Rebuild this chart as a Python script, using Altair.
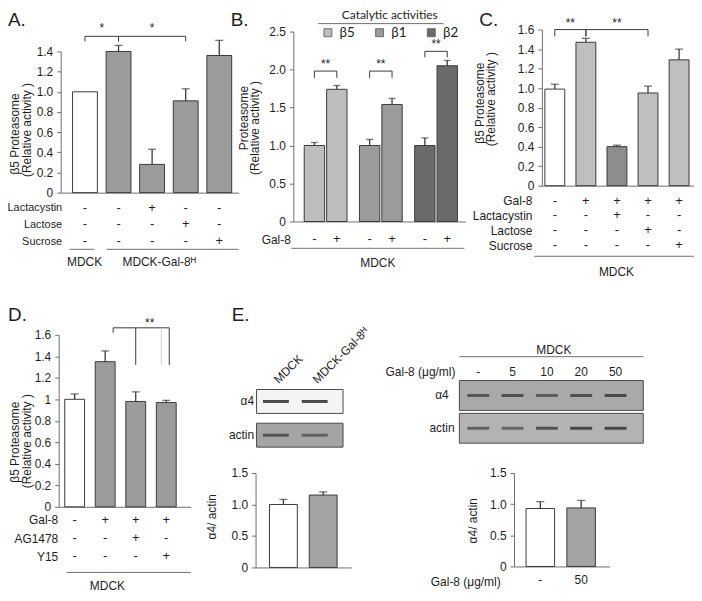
import altair as alt
import pandas as pd

# ======================= DATA =======================
# Panel A : MDCK vs MDCK-Gal-8H, beta5 proteasome activity
A_conditions = ["MDCK", "MDCK-Gal-8H", "MDCK-Gal-8H + lactacystin",
                "MDCK-Gal-8H + lactose", "MDCK-Gal-8H + sucrose"]
A_values = [1.00, 1.40, 0.28, 0.91, 1.36]
A_errors = [0.00, 0.06, 0.15, 0.12, 0.15]
A_rows = ["Lactacystin", "Lactose", "Sucrose"]
A_signs = [["-", "-", "+", "-", "-"],
           ["-", "-", "-", "+", "-"],
           ["-", "-", "-", "-", "+"]]
A_yticks = [0, 0.2, 0.4, 0.6, 0.8, 1.0, 1.2, 1.4]

# Panel B : catalytic activities, +/- Gal-8
B_activities = ["β5", "β1", "β2"]
B_gal8 = ["-", "+"]
B_values_ctrl = [1.00, 1.00, 1.00]
B_values_gal8 = [1.74, 1.54, 2.05]
B_errors_ctrl = [0.04, 0.08, 0.10]
B_errors_gal8 = [0.05, 0.08, 0.07]
B_yticks = [0, 0.5, 1.0, 1.5, 2.0, 2.5]

# Panel C
C_conditions = ["Control", "Gal-8", "Gal-8 + lactacystin", "Gal-8 + lactose", "Gal-8 + sucrose"]
C_values = [0.99, 1.47, 0.40, 0.95, 1.29]
C_errors = [0.05, 0.04, 0.015, 0.07, 0.11]
C_rows = ["Gal-8", "Lactacystin", "Lactose", "Sucrose"]
C_signs = [["-", "+", "+", "+", "+"],
           ["-", "-", "+", "-", "-"],
           ["-", "-", "-", "+", "-"],
           ["-", "-", "-", "-", "+"]]
C_yticks = [0, 0.2, 0.4, 0.6, 0.8, 1.0, 1.2, 1.4, 1.6]

# Panel D
D_conditions = ["Control", "Gal-8", "Gal-8 + AG1478", "Gal-8 + Y15"]
D_values = [1.00, 1.35, 0.98, 0.97]
D_errors = [0.05, 0.10, 0.09, 0.02]
D_rows = ["Gal-8", "AG1478", "Y15"]
D_signs = [["-", "+", "+", "+"],
           ["-", "-", "+", "-"],
           ["-", "-", "-", "+"]]
D_yticks = [0, 0.2, 0.4, 0.6, 0.8, 1.0, 1.2, 1.4, 1.6]

# Panel E (left): blot + quantification
E1_lanes = ["MDCK", "MDCK-Gal-8ᴴ"]
E1_blots = ["α4", "actin"]
E1_band_intensity = [[0.85, 0.85], [0.65, 0.55]]
E1_values = [1.00, 1.15]
E1_errors = [0.08, 0.05]
E_yticks = [0, 0.5, 1.0, 1.5]

# Panel E (right): dose series
E2_lanes = ["-", "5", "10", "20", "50"]
E2_blots = ["α4", "actin"]
E2_band_intensity = [[0.65, 0.70, 0.60, 0.70, 0.75],
                     [0.60, 0.55, 0.70, 0.80, 0.80]]
E2_doses = ["-", "50"]
E2_values = [0.93, 0.94]
E2_errors = [0.11, 0.12]

# ======================= STYLE / LAYOUT =======================
W, H = 690, 588
FONT = "Liberation Sans"
TXT = "#1e1e1e"
AXC = "#6e6e6e"
EDGE = "#3a3a3a"
WHITE = "#ffffff"
GRAY = "#9b9b9b"
FMT1 = "datum.value == 0 ? '0' : format(datum.value, '.1f')"
FMTD = "format(datum.value, '.1~f')"
ONE = pd.DataFrame({"k": [0]})


def P(v):
    """page pixel -> plot pixel"""
    return v - 8


def yaxis(axis_x, ticks, fmt):
    return alt.Axis(orient="left", offset=-P(axis_x), values=ticks, labelExpr=fmt,
                    title=None, grid=False, tickSize=4,
                    labelPadding=4, labelOverlap=False, domainColor=AXC, tickColor=AXC,
                    labelFontSize=12, labelColor=TXT)


def band_step(xr, n, band):
    pin, pout, _ = band
    return (xr[1] - xr[0]) / (n - pin + 2 * pout)


def mid(i, j, xr, n, band):
    """label anchor midway between the centres of bars i and j"""
    m = (i + j) / 2
    k = int(m)
    if m == k:
        return k, 0.5, 0
    step = band_step(xr, n, band)
    return k, 1.0, band[0] * step / 2


def bar_panel(conds, values, errors, fills, xr, band, yd, yr, axis_x, ticks, fmt,
              cap=8, brackets=(), rows=None, signs=None, row_px=None,
              row_label_x=None, row_fs=12, xaxis_extra=None):
    pin, pout, al = band
    xs = alt.Scale(domain=conds, range=[P(xr[0]), P(xr[1])], paddingInner=pin,
                   paddingOuter=pout, align=al)
    xa_kw = dict(orient="bottom", offset=P(yr[0]) - H, labels=False, ticks=False,
                 title=None, grid=False, domainColor=AXC, labelAngle=0)
    if xaxis_extra:
        xa_kw.update(xaxis_extra)
    xa = alt.Axis(**xa_kw)
    ys = alt.Scale(domain=yd, range=[P(yr[0]), P(yr[1])], nice=False, zero=False)
    ya = yaxis(axis_x, ticks, fmt)

    def X(f, **k):
        return alt.X(f"{f}:N", scale=xs, axis=xa, **k)

    def Y(f):
        return alt.Y(f"{f}:Q", scale=ys, axis=ya)

    df = pd.DataFrame({"cond": conds, "value": values, "err": errors})
    df["top"] = df["value"] + df["err"]
    de = df[df["err"] > 0]
    layers = [
        alt.Chart(df).mark_bar(stroke=EDGE, strokeWidth=1).encode(
            x=X("cond"), y=Y("value"),
            color=alt.Color("cond:N", scale=alt.Scale(domain=conds, range=fills), legend=None)),
        alt.Chart(de).mark_rule(color=EDGE, strokeWidth=1.3).encode(
            x=X("cond"), y=Y("value"), y2="top"),
        alt.Chart(de).mark_tick(color=EDGE, thickness=1.3, size=cap).encode(
            x=X("cond"), y=Y("top")),
    ]
    for br in brackets:
        a, bpa, b, bpb, lev = br["h"]
        layers.append(alt.Chart(pd.DataFrame([{"a": a, "b": b, "level": lev}])).mark_rule(
            color=EDGE, strokeWidth=1).encode(
            x=X("a", bandPosition=bpa), x2=alt.X2("b", bandPosition=bpb), y=Y("level")))
        for c, bp, t, lo, col in br["legs"]:
            layers.append(alt.Chart(pd.DataFrame([{"c": c, "t": t, "lo": lo}])).mark_rule(
                color=col, strokeWidth=1).encode(
                x=X("c", bandPosition=bp), y=Y("t"), y2="lo"))
        c, bp, dx, sy, st = br["star"]
        layers.append(alt.Chart(pd.DataFrame([{"c": c, "sy": sy, "st": st}])).mark_text(
            fontSize=12, color=TXT, baseline="middle", dx=dx).encode(
            x=X("c", bandPosition=bp), y=Y("sy"), text="st:N"))
    plot = alt.layer(*layers)
    if not rows:
        return plot
    rdf = pd.DataFrame([{"cond": c, "row": r, "sign": signs[i][j]}
                        for i, r in enumerate(rows) for j, c in enumerate(conds)])
    rs = alt.Scale(type="point", domain=rows, range=[P(row_px[0]), P(row_px[1])], padding=0)
    ra = alt.Axis(orient="left", offset=-P(row_label_x), domain=False, ticks=False, tickSize=0,
                  labelPadding=0, title=None, grid=False, labelFontSize=row_fs,
                  labelColor=TXT, labelFont=FONT)
    rowl = alt.Chart(rdf).mark_text(fontSize=13, color=TXT, baseline="middle").encode(
        x=X("cond"), y=alt.Y("row:N", scale=rs, axis=ra), text="sign:N")
    return alt.layer(plot, rowl).resolve_scale(y="independent")


def hline(x0, x1, y, color="#707070", w=1):
    return alt.Chart(ONE).mark_rule(color=color, strokeWidth=w).encode(
        x=alt.value(P(x0)), x2=alt.value(P(x1)), y=alt.value(P(y)))


def label(text, x, y, size=12, align="center", font=FONT, baseline="middle", angle=0):
    return alt.Chart(ONE).mark_text(text=text, fontSize=size, align=align, baseline=baseline,
                                    font=font, color=TXT, angle=angle).encode(
        x=alt.value(P(x)), y=alt.value(P(y)))


def vtitle(text, x, y):
    return label(text, x, y, angle=270)


# ----------------------- Panel A -----------------------
A_xr = (61, 240)
A_band = (0.26, 0.28, 0.63)
k1, bp1, dx1 = mid(0, 1, A_xr, 5, A_band)
k2, bp2, dx2 = mid(1, 3, A_xr, 5, A_band)
A_br = [
    dict(h=(A_conditions[0], .5, A_conditions[1], .5, 1.55),
         legs=[(A_conditions[0], .5, 1.55, 1.50, EDGE), (A_conditions[1], .5, 1.55, 1.50, EDGE)],
         star=(A_conditions[k1], bp1, dx1, 1.63, "*")),
    dict(h=(A_conditions[1], .5, A_conditions[3], .5, 1.55),
         legs=[(A_conditions[1], .5, 1.55, 1.50, EDGE), (A_conditions[3], .5, 1.55, 1.50, EDGE)],
         star=(A_conditions[k2], bp2, dx2, 1.63, "*")),
]
panelA = bar_panel(A_conditions, A_values, A_errors, [WHITE, GRAY, GRAY, GRAY, GRAY],
                   A_xr, A_band, [0, 1.4], (192, 50), 61, A_yticks, FMT1, brackets=A_br,
                   rows=A_rows, signs=A_signs, row_px=(207, 241), row_label_x=62, row_fs=11)

# ----------------------- Panel B -----------------------
B_pin, B_pout, B_al = 0.225, 0.17, 0.58
bxs = alt.Scale(domain=B_activities, range=[P(295), P(468)], paddingInner=B_pin,
                paddingOuter=B_pout, align=B_al)
bxa = alt.Axis(orient="bottom", offset=P(221) - H, labels=False, ticks=False, title=None,
               grid=False, domainColor=AXC)
bys = alt.Scale(domain=[0, 2.5], range=[P(221), P(30)], nice=False, zero=False)
bya = yaxis(295, B_yticks, FMT1)
boff = alt.Scale(domain=B_gal8, paddingInner=0.09, paddingOuter=0)


def BX(f="activity", **k):
    return alt.X(f"{f}:N", scale=bxs, axis=bxa, **k)


def BY(f):
    return alt.Y(f"{f}:Q", scale=bys, axis=bya)


B_rows_df = []
for i, act in enumerate(B_activities):
    B_rows_df.append({"activity": act, "gal8": "-", "value": B_values_ctrl[i], "err": B_errors_ctrl[i]})
    B_rows_df.append({"activity": act, "gal8": "+", "value": B_values_gal8[i], "err": B_errors_gal8[i]})
bdf = pd.DataFrame(B_rows_df)
bdf["top"] = bdf["value"] + bdf["err"]

B_legend = alt.Legend(orient="none", legendX=P(323), legendY=P(8), direction="horizontal",
                      title="Catalytic activities", titleFont="Lato", titleFontSize=12,
                      titleFontWeight="normal", titleColor=TXT, titleAnchor="middle",
                      titlePadding=4, labelFont="Lato", labelFontSize=13.5, labelColor=TXT,
                      symbolType="square", symbolSize=64, symbolStrokeColor="#555555",
                      symbolStrokeWidth=0.8, symbolOpacity=1, columnPadding=18, labelOffset=5,
                      padding=0, offset=0)
b_layers = [
    alt.Chart(bdf).mark_bar(stroke=EDGE, strokeWidth=1).encode(
        x=BX(), xOffset=alt.XOffset("gal8:N", scale=boff), y=BY("value"),
        color=alt.Color("activity:N", scale=alt.Scale(domain=B_activities,
                                                      range=["#bdbdbd", "#9b9b9b", "#6b6b6b"]),
                        legend=B_legend)),
    alt.Chart(bdf).mark_rule(color=EDGE, strokeWidth=1.3).encode(
        x=BX(), xOffset=alt.XOffset("gal8:N", scale=boff), y=BY("value"), y2="top"),
    alt.Chart(bdf).mark_tick(color=EDGE, thickness=1.3, size=7).encode(
        x=BX(), xOffset=alt.XOffset("gal8:N", scale=boff), y=BY("top")),
]
# position of '-' and '+' bar centres inside a group band
_st = 1 / (2 - 0.09)
bp_minus = _st * (1 - 0.09) / 2
bp_plus = _st + bp_minus
B_br_levels = [(1.98, 1.89, 2.07), (1.98, 1.89, 2.07), (2.24, 2.16, 2.33)]
for act, (lev, lo, sy) in zip(B_activities, B_br_levels):
    d1 = pd.DataFrame([{"activity": act, "level": lev, "lo": lo, "sy": sy, "st": "**"}])
    b_layers += [
        alt.Chart(d1).mark_rule(color=EDGE, strokeWidth=1).encode(
            x=BX(bandPosition=bp_minus), x2=alt.X2("activity", bandPosition=bp_plus), y=BY("level")),
        alt.Chart(d1).mark_rule(color=EDGE, strokeWidth=1).encode(
            x=BX(bandPosition=bp_minus), y=BY("level"), y2="lo"),
        alt.Chart(d1).mark_rule(color=EDGE, strokeWidth=1).encode(
            x=BX(bandPosition=bp_plus), y=BY("level"), y2="lo"),
        alt.Chart(d1).mark_text(fontSize=12, color=TXT, baseline="middle").encode(
            x=BX(), y=BY("sy"), text="st:N"),
    ]
bplot = alt.layer(*b_layers)
b_rowdf = pd.DataFrame([{"activity": a, "gal8": g, "row": "Gal-8"} for a in B_activities for g in B_gal8])
b_rows = alt.Chart(b_rowdf).mark_text(fontSize=13, color=TXT, baseline="middle").encode(
    x=BX(), xOffset=alt.XOffset("gal8:N", scale=boff),
    y=alt.Y("row:N", scale=alt.Scale(type="point", domain=["Gal-8"], range=[P(239), P(239)], padding=0),
            axis=alt.Axis(orient="left", offset=-P(292), domain=False, ticks=False, tickSize=0,
                          labelPadding=0, title=None, grid=False, labelFontSize=12, labelColor=TXT)),
    text="gal8:N")
panelB = alt.layer(bplot, b_rows).resolve_scale(y="independent")

# ----------------------- Panel C -----------------------
C_xr = (545, 700)
C_band = (0.36, 0.16, 0.3)
ck1, cbp1, cdx1 = mid(0, 1, C_xr, 5, C_band)
ck2, cbp2, cdx2 = mid(1, 3, C_xr, 5, C_band)
C_br = [
    dict(h=(C_conditions[0], .5, C_conditions[1], .5, 1.60),
         legs=[(C_conditions[0], .5, 1.60, 1.53, EDGE), (C_conditions[1], .5, 1.60, 1.53, EDGE)],
         star=(C_conditions[ck1], cbp1, cdx1, 1.67, "**")),
    dict(h=(C_conditions[1], .5, C_conditions[3], .5, 1.60),
         legs=[(C_conditions[1], .5, 1.60, 1.53, EDGE), (C_conditions[3], .5, 1.60, 1.53, EDGE)],
         star=(C_conditions[ck2], cbp2, cdx2, 1.67, "**")),
]
panelC = bar_panel(C_conditions, C_values, C_errors,
                   [WHITE, "#bfbfbf", "#8d8d8d", "#bfbfbf", "#bfbfbf"],
                   C_xr, C_band, [0, 1.6], (185, 28), 545, C_yticks, FMT1, brackets=C_br,
                   rows=C_rows, signs=C_signs, row_px=(200, 245), row_label_x=535, row_fs=12)

# ----------------------- Panel D -----------------------
D_band = (0.35, 0.34, 0.29)
D_br = [dict(h=(D_conditions[1], 0.9, D_conditions[3], 0.65, 1.665),
             legs=[(D_conditions[3], 0.25, 1.665, 1.32, "#cfcfcf"),
                   (D_conditions[1], 0.9, 1.665, 1.62, EDGE),
                   (D_conditions[2], 0.5, 1.665, 1.32, EDGE),
                   (D_conditions[3], 0.65, 1.665, 1.32, EDGE)],
             star=(D_conditions[2], 1.0, 4, 1.71, "**"))]
panelD = bar_panel(D_conditions, D_values, D_errors, [WHITE, GRAY, GRAY, GRAY],
                   (59, 192), D_band, [0, 1.6], (508, 335), 59, D_yticks, FMTD, brackets=D_br,
                   rows=D_rows, signs=D_signs, row_px=(521, 558), row_label_x=58, row_fs=12)

# ----------------------- Panel E bars -----------------------
panelE1 = bar_panel(E1_lanes, E1_values, E1_errors, [WHITE, "#a3a3a3"],
                    (257, 353), (0.3, 0.35, 0.5), [0, 1.5], (569, 474), 257, E_yticks, FMT1)
panelE2 = bar_panel(E2_doses, E2_values, E2_errors, [WHITE, "#a3a3a3"],
                    (517, 613), (0.3, 0.32, 0.46), [0, 1.5], (568, 474), 517, E_yticks, FMT1,
                    xaxis_extra=dict(labels=True, labelPadding=8, labelFontSize=12, labelColor=TXT,
                                     title="Gal-8 (μg/ml)", titleX=P(503), titleY=15,
                                     titleAlign="right", titleBaseline="middle", titleAngle=0,
                                     titleFontSize=12, titleFontWeight="normal", titleColor=TXT))


# ----------------------- Panel E blots -----------------------
def blot_panel(lanes, blots, intens, lane_rng, lane_pout, lane_align, row_rng, row_pin,
               frame_x, fills, label_x, label_align, band_size, header):
    ls = alt.Scale(domain=lanes, range=[P(lane_rng[0]), P(lane_rng[1])], paddingInner=0,
                   paddingOuter=lane_pout, align=lane_align)
    rs = alt.Scale(domain=blots, range=[P(row_rng[0]), P(row_rng[1])], paddingInner=row_pin,
                   paddingOuter=0)
    ra = alt.Axis(orient="left", offset=-P(label_x), domain=False, ticks=False, tickSize=0,
                  labelPadding=0, labelAlign=label_align, title=None, grid=False,
                  labelFontSize=12, labelColor=TXT)
    fdf = pd.DataFrame({"blot": blots})
    frame = alt.Chart(fdf).mark_rect(stroke="#4a4a4a", strokeWidth=1).encode(
        x=alt.value(P(frame_x[0])), x2=alt.value(P(frame_x[1])),
        y=alt.Y("blot:N", scale=rs, axis=ra),
        color=alt.Color("blot:N", scale=alt.Scale(domain=blots, range=fills), legend=None))
    bd = pd.DataFrame([{"lane": l, "blot": b, "intensity": intens[i][j]}
                       for i, b in enumerate(blots) for j, l in enumerate(lanes)])
    bands = alt.Chart(bd).mark_tick(orient="horizontal", color="#2a2a2a", thickness=3,
                                    size=band_size).encode(
        x=alt.X("lane:N", scale=ls, axis=None), y=alt.Y("blot:N", scale=rs, axis=ra),
        opacity=alt.Opacity("intensity:Q", scale=None))
    hd = pd.DataFrame({"lane": lanes})
    if header == "rot":
        head = alt.Chart(hd).mark_text(angle=315, align="left", baseline="middle", fontSize=12,
                                       color=TXT).encode(
            x=alt.X("lane:N", scale=ls, axis=None), y=alt.value(P(382)), text="lane:N")
    else:
        head = alt.Chart(hd).mark_text(align="center", baseline="middle", fontSize=12,
                                       color=TXT).encode(
            x=alt.X("lane:N", scale=ls, axis=None), y=alt.value(P(372)), text="lane:N")
    return alt.layer(frame, bands, head)


blotE1 = blot_panel(E1_lanes, E1_blots, E1_band_intensity, (258, 336), 0, 0.5,
                    (390, 448), 0.29, (258, 345), ["#f4f4f4", "#a4a4a4"], 255, "right", 26, "rot")
blotE2 = blot_panel(E2_lanes, E2_blots, E2_band_intensity, (462, 647), 0.18, 0.14,
                    (381, 444), 0.09, (462, 647), ["#a9a9a9", "#b3b3b3"], 444, "center", 22, "flat")

# ----------------------- decorations -----------------------
decor = [
    label("A.", 8, 24, size=19, align="left", baseline="alphabetic"),
    label("B.", 232, 24, size=19, align="left", baseline="alphabetic"),
    label("C.", 482, 24, size=19, align="left", baseline="alphabetic"),
    label("D.", 8, 321, size=19, align="left", baseline="alphabetic"),
    label("E.", 233, 321, size=19, align="left", baseline="alphabetic"),
    # y-axis titles
    vtitle("β5 Proteasome", 15, 133), vtitle("(Relative activity )", 27, 129),
    vtitle("Proteasome", 245, 117), vtitle("(Relative activity )", 256, 127),
    vtitle("β5 Proteasome", 483, 102), vtitle("(Relative activity )", 494, 98),
    vtitle("β5 Proteasome", 15, 443), vtitle("(Relative activity )", 27, 442),
    vtitle("α4/ actin", 213, 518), vtitle("α4/ actin", 476, 522),
    # group lines / labels
    hline(70, 95, 249), hline(107, 240, 249),
    label("MDCK", 85, 262), label("MDCK-Gal-8ᴴ", 160, 262),
    hline(320, 446, 22),
    hline(293, 467, 248), label("MDCK", 380, 263),
    hline(537, 700, 256), label("MDCK", 620, 272),
    hline(67, 192, 574), label("MDCK", 108, 588),
    hline(462, 647, 357), label("MDCK", 557, 350),
    label("Gal-8 (μg/ml)", 458, 372, align="right"),
]

chart = alt.layer(panelA, panelB, panelC, panelD, panelE1, panelE2, blotE1, blotE2, *decor).resolve_scale(
    x="independent", y="independent", color="independent"
).properties(
    width=W, height=H, padding=0, autosize=alt.AutoSizeParams(type="none")
).configure_view(stroke=None).configure_axis(
    labelFont=FONT, titleFont=FONT, grid=False
).configure_text(font=FONT)

chart.save("out.html", embed_options={"renderer": "svg", "actions": False})
